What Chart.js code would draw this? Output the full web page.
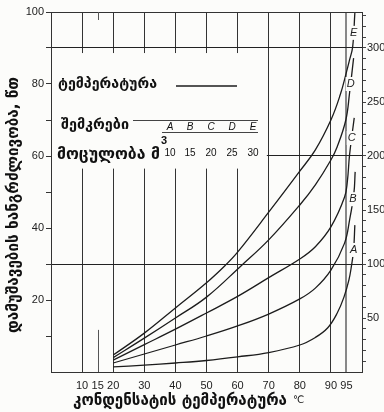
<!DOCTYPE html>
<html>
<head>
<meta charset="utf-8">
<script src="https://cdn.jsdelivr.net/npm/chart.js@4.4.0/dist/chart.umd.min.js"></script>
<style>
  html, body { margin: 0; padding: 0; background: #fcfcfa; }
  #wrap { width: 384px; height: 412px; }
</style>
</head>
<body>
<div id="wrap"><canvas id="chart" width="384" height="412"></canvas></div>
<script>
// condensate temperature (°C) and processing time (min) for each collector A..E
const curveNames = ["A", "B", "C", "D", "E"]
const volumes = [10, 15, 20, 25, 30]

const tempA = [20, 30, 40, 50, 60, 70, 80, 85, 89, 92, 94.2, 95.8, 96.6, 97.3, 97.7]
const timeA = [1.4, 1.9, 2.5, 3.2, 4.2, 5.4, 7.5, 9.6, 12.3, 16.3, 20.8, 25.6, 29.4, 33.9, 40.8]

const tempB = [20, 30, 40, 50, 60, 70, 80, 85, 90, 94.4, 96, 97.4, 97.8]
const timeB = [2.5, 5, 7.5, 10, 12.8, 16.1, 20.3, 23.3, 28.3, 35.8, 42.2, 49.7, 55.6]

const tempC = [20, 30, 40, 50, 60, 70, 80, 85, 90, 94.4, 95.3, 96, 97.5]
const timeC = [3.3, 7.6, 11.9, 16.4, 21.0, 26.2, 31.4, 34.8, 40.3, 48.6, 53, 60.3, 70.6]

const tempD = [20, 30, 40, 50, 61, 70, 80, 85, 90, 92, 94.8, 96, 97.3]
const timeD = [4.0, 9.4, 15, 20.8, 29.4, 36.7, 46.4, 52, 58.9, 62.5, 70, 77.5, 87.2]

const tempE = [20, 30, 40, 50, 56, 60, 70, 80, 85, 90, 93, 95, 96, 97, 97.7]
const timeE = [4.7, 10.8, 17.8, 24.8, 29.6, 33.3, 44.4, 55.8, 61.7, 70, 77, 83.3, 86.7, 90.3, 99.7]

// where the letter sits on each curve (minutes)
const letterLevels = [33.9, 48, 65, 80, 94.2]

const xTicks = [10, 15, 20, 30, 40, 50, 60, 70, 80, 90, 95]
const leftLabels = [20, 40, 60, 80, 100]
const rightLabels = [50, 100, 150, 200, 250, 300]
const rightGrid = [100, 200, 300]

const series = [[tempA, timeA], [tempB, timeB], [tempC, timeC], [tempD, timeD], [tempE, timeE]]

const paper = "#fcfcfa"
const ink = "#1c1c1c"
const georgian = '"DejaVu Sans", sans-serif'
const digits = '"Liberation Sans", Arial, sans-serif'

function fitText(ctx, text, x, y, width, weight, family) {
  ctx.font = `${weight} 20px ${family}`
  const w = ctx.measureText(text).width
  const size = (20 * width) / w
  ctx.font = `${weight} ${size.toFixed(2)}px ${family}`
  ctx.fillText(text, x, y)
}

function tempAt(ts, vs, level) {
  for (let i = 0; i < vs.length - 1; i++) {
    if (level >= vs[i] && level <= vs[i + 1]) {
      const f = (level - vs[i]) / (vs[i + 1] - vs[i])
      return ts[i] + f * (ts[i + 1] - ts[i])
    }
  }
  return ts[ts.length - 1]
}

const sheet = {
  id: "sheet",
  beforeDraw(chart) {
    const { ctx, width, height } = chart
    ctx.save()
    ctx.fillStyle = paper
    ctx.fillRect(0, 0, width, height)
    ctx.restore()
  },
  beforeDatasetsDraw(chart) {
    const { ctx, chartArea: a, scales: { x, y } } = chart
    ctx.save()
    ctx.strokeStyle = "#333"
    ctx.lineWidth = 1
    // top frame
    ctx.beginPath()
    ctx.moveTo(a.left, a.top + 0.5)
    ctx.lineTo(a.right, a.top + 0.5)
    ctx.stroke()
    // 15 degree line only as stubs
    const x15 = Math.round(x.getPixelForValue(15)) + 0.5
    ctx.strokeStyle = "#555"
    ctx.beginPath()
    ctx.moveTo(x15, a.top)
    ctx.lineTo(x15, a.top + 8)
    ctx.moveTo(x15, y.getPixelForValue(11.7))
    ctx.lineTo(x15, a.bottom)
    ctx.stroke()

    // blank block behind the legend
    const bx0 = a.left + 1
    const bx1 = x.getPixelForValue(69.4)
    const by0 = y.getPixelForValue(88.6)
    const by1 = y.getPixelForValue(56.5)
    ctx.fillStyle = paper
    ctx.fillRect(bx0, by0, bx1 - bx0, by1 - by0)

    ctx.fillStyle = "#111"
    ctx.textBaseline = "middle"
    ctx.textAlign = "left"
    fitText(ctx, "ტემპერატურა", 58, 84, 99, "bold", georgian)
    ctx.strokeStyle = ink
    ctx.lineWidth = 1.4
    ctx.beginPath()
    ctx.moveTo(176, 86)
    ctx.lineTo(237, 86)
    ctx.stroke()

    fitText(ctx, "შემკრები", 61, 125, 68, "bold", georgian)
    ctx.lineWidth = 1
    ctx.strokeStyle = "#444"
    ctx.beginPath()
    ctx.moveTo(133, 120.5)
    ctx.lineTo(258, 120.5)
    ctx.moveTo(162, 132.5)
    ctx.lineTo(258, 132.5)
    ctx.stroke()

    const colX = [170, 190, 211, 232, 253]
    ctx.textAlign = "center"
    ctx.font = `italic 10px ${digits}`
    curveNames.forEach((n, i) => ctx.fillText(n, colX[i], 127))
    ctx.font = `10px ${digits}`
    volumes.forEach((v, i) => ctx.fillText(String(v), colX[i], 153))

    ctx.textAlign = "left"
    fitText(ctx, "მოცულობა მ", 57, 155, 103, "bold", georgian)
    ctx.font = `bold 11px ${digits}`
    ctx.fillText("3", 161, 141)
    ctx.restore()
  },
  afterDatasetsDraw(chart) {
    const { ctx, scales: { x, y } } = chart
    ctx.save()
    ctx.font = `italic 11px ${digits}`
    ctx.textAlign = "center"
    ctx.textBaseline = "middle"
    series.forEach(([ts, vs], i) => {
      const px = x.getPixelForValue(tempAt(ts, vs, letterLevels[i]))
      const py = y.getPixelForValue(letterLevels[i])
      ctx.fillStyle = paper
      ctx.fillRect(px - 5, py - 7, 10, 14)
      ctx.fillStyle = "#222"
      ctx.fillText(curveNames[i], px, py)
    })
    ctx.restore()
  },
  afterDraw(chart) {
    const { ctx } = chart
    ctx.save()
    ctx.fillStyle = "#111"
    ctx.textBaseline = "middle"
    ctx.textAlign = "left"
    ctx.translate(14, 205)
    ctx.rotate(-Math.PI / 2)
    fitText(ctx, "დამუშავების ხანგრძლივობა, წთ", -128, 0, 256, "bold", georgian)
    ctx.restore()

    ctx.save()
    ctx.fillStyle = "#111"
    ctx.textBaseline = "middle"
    ctx.textAlign = "left"
    fitText(ctx, "კონდენსატის ტემპერატურა", 73, 401, 214, "bold", georgian)
    ctx.font = `10px ${georgian}`
    ctx.fillText("℃", 293, 400)
    ctx.restore()
  }
}

const datasets = series.map(([ts, vs], i) => ({
  label: curveNames[i],
  data: ts.map((t, j) => ({ x: t, y: vs[j] })),
  borderColor: ink,
  borderWidth: 1.3,
  pointRadius: 0,
  fill: false,
  tension: 0.4,
  yAxisID: "y"
}))

new Chart(document.getElementById("chart"), {
  type: "line",
  data: { datasets },
  plugins: [sheet],
  options: {
    responsive: false,
    animation: false,
    layout: { padding: { top: 12, left: 0, right: 0, bottom: 0 } },
    plugins: { legend: { display: false }, tooltip: { enabled: false } },
    scales: {
      x: {
        type: "linear",
        min: 0,
        max: 100,
        afterBuildTicks: (s) => { s.ticks = xTicks.map((v) => ({ value: v })) },
        afterFit: (s) => { s.height = 40 },
        ticks: { autoSkip: false, maxRotation: 0, padding: 7, color: "#222", font: { family: digits, size: 11 } },
        grid: {
          drawTicks: false,
          color: (c) => (c.tick && c.tick.value === 15 ? "transparent" : c.tick && c.tick.value === 95 ? "#888" : "#333"),
          lineWidth: (c) => (c.tick && c.tick.value === 95 ? 2 : 1)
        },
        border: { color: "#333" }
      },
      y: {
        type: "linear",
        position: "left",
        min: 0,
        max: 100,
        afterBuildTicks: (s) => {
          const t = []
          for (let v = 10; v <= 100; v += 10) t.push({ value: v })
          s.ticks = t
        },
        afterFit: (s) => { s.width = 51 },
        ticks: {
          autoSkip: false,
          padding: 2,
          color: "#222",
          font: { family: digits, size: 11 },
          callback: (v) => (leftLabels.includes(v) ? String(v) : "")
        },
        grid: { drawOnChartArea: false, tickLength: 5, tickColor: "#333" },
        border: { color: "#333" }
      },
      y2: {
        type: "linear",
        position: "right",
        min: 0,
        max: 1000 / 3,
        afterBuildTicks: (s) => {
          const t = []
          for (let v = 10; v <= 330; v += 10) t.push({ value: v })
          s.ticks = t
        },
        afterFit: (s) => { s.width = 22 },
        ticks: {
          autoSkip: false,
          padding: 1,
          color: "#222",
          font: { family: digits, size: 11 },
          callback: (v) => (rightLabels.includes(v) ? String(v) : "")
        },
        grid: {
          color: (c) => (c.tick && rightGrid.includes(c.tick.value) ? "#222" : "transparent"),
          tickLength: 4,
          tickColor: "#444"
        },
        border: { color: "#333" }
      }
    }
  }
})
</script>
</body>
</html>
